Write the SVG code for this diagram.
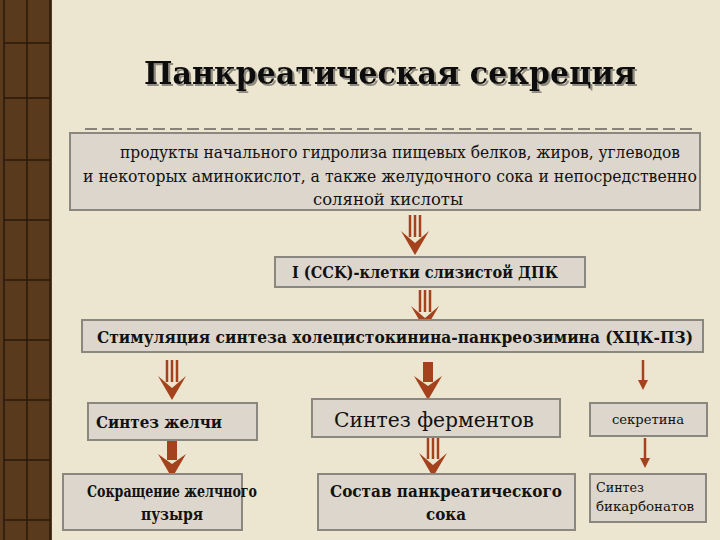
<svg xmlns="http://www.w3.org/2000/svg" width="720" height="540" viewBox="0 0 720 540">
<style>
.box{fill:#dcd6cc;stroke:#8a8780;stroke-width:2}
.t{font-family:'DejaVu Serif','Liberation Serif',serif;fill:#111}
.b{font-weight:bold}
.ar{fill:#a3421c;stroke:none}
.ln{stroke:#a3421c;stroke-width:2.5}
</style>
<defs>
<filter id="sh" x="-5%" y="-20%" width="110%" height="140%"><feDropShadow dx="2" dy="2" stdDeviation="0.5" flood-color="#8f8b80"/></filter>
<g id="tri"><line class="ln" x1="-5" y1="0" x2="-5" y2="22"/><line class="ln" x1="0" y1="0" x2="0" y2="22"/><line class="ln" x1="5" y1="0" x2="5" y2="22"/><path class="ar" d="M-14,16 L0,40 L14,16 L0,28 Z"/></g>
<g id="thick"><rect class="ar" x="-5" y="0" width="10" height="20"/><path class="ar" d="M-14,14 L0,38 L14,14 L0,24 Z"/></g>
<g id="thin"><line class="ln" x1="0" y1="0" x2="0" y2="22" stroke-width="2"/><path class="ar" d="M-5,20 L0,30 L5,20 Z"/></g>
</defs>
<rect width="720" height="540" fill="#ece5cf"/>
<rect x="0" y="0" width="52" height="540" fill="#5a3a1c"/>
<g stroke="#2a1a0a" stroke-width="1.5">
<line x1="27" y1="0" x2="27" y2="540"/><line x1="4" y1="0" x2="4" y2="540"/><line x1="50" y1="0" x2="50" y2="540"/>
<line x1="4" y1="43" x2="50" y2="43"/><line x1="4" y1="98" x2="50" y2="98"/><line x1="4" y1="160" x2="50" y2="160"/><line x1="4" y1="220" x2="50" y2="220"/><line x1="4" y1="280" x2="50" y2="280"/><line x1="4" y1="340" x2="50" y2="340"/><line x1="4" y1="400" x2="50" y2="400"/><line x1="4" y1="460" x2="50" y2="460"/><line x1="4" y1="520" x2="50" y2="520"/>
</g>
<g id="title">
<text class="t b" x="390" y="84" font-size="32" text-anchor="middle" textLength="492" lengthAdjust="spacingAndGlyphs" filter="url(#sh)">Панкреатическая секреция</text>
<line x1="85" y1="129" x2="692" y2="129" stroke="#222" stroke-width="1.2" stroke-dasharray="12,5"/>
</g>
<g id="connectors">
<use href="#tri" x="415" y="215"/>
<use href="#tri" x="425" y="290"/>
<use href="#tri" x="172" y="360"/>
<use href="#thick" x="428" y="362"/>
<use href="#thin" x="643" y="360"/>
<use href="#thick" x="172" y="440"/>
<use href="#tri" x="433" y="437"/>
<use href="#thin" x="645" y="438"/>
</g>
<g id="n1"><rect class="box" x="70" y="133" width="630" height="77"/>
<text class="t" font-size="16" text-anchor="middle" lengthAdjust="spacingAndGlyphs"><tspan x="400" y="158" textLength="560" lengthAdjust="spacingAndGlyphs">продукты начального гидролиза пищевых белков, жиров, углеводов</tspan><tspan x="390" y="182" textLength="614" lengthAdjust="spacingAndGlyphs">и некоторых аминокислот, а также желудочного сока и непосредственно</tspan><tspan x="388" y="205" textLength="150" lengthAdjust="spacingAndGlyphs">соляной кислоты</tspan></text></g>
<g id="n2"><rect class="box" x="275" y="257" width="310" height="30"/><text class="t b" x="425" y="278" font-size="16" text-anchor="middle" textLength="266" lengthAdjust="spacingAndGlyphs">I (CCK)-клетки слизистой ДПК</text></g>
<g id="n3"><rect class="box" x="82" y="320" width="621" height="32"/><text class="t b" x="395" y="343" font-size="16" text-anchor="middle" textLength="596" lengthAdjust="spacingAndGlyphs">Стимуляция синтеза холецистокинина-панкреозимина (ХЦК-ПЗ)</text></g>
<g id="n4"><rect class="box" x="88" y="403" width="169" height="37"/><text class="t b" x="96" y="428" font-size="16" textLength="126" lengthAdjust="spacingAndGlyphs">Синтез желчи</text></g>
<g id="n5"><rect class="box" x="312" y="399" width="248" height="38"/><text class="t" x="434" y="427" font-size="21" text-anchor="middle" textLength="200" lengthAdjust="spacingAndGlyphs">Синтез ферментов</text></g>
<g id="n6"><rect class="box" x="590" y="403" width="117" height="33"/><text class="t" x="648" y="424" font-size="12" text-anchor="middle" textLength="72" lengthAdjust="spacingAndGlyphs">секретина</text></g>
<g id="n7"><rect class="box" x="63" y="474" width="179" height="56"/><text class="t b" font-size="16" text-anchor="middle"><tspan x="172" y="497" textLength="170" lengthAdjust="spacingAndGlyphs">Сокращение желчного</tspan><tspan x="172" y="520" textLength="62" lengthAdjust="spacingAndGlyphs">пузыря</tspan></text></g>
<g id="n8"><rect class="box" x="318" y="474" width="257" height="56"/><text class="t b" font-size="16" text-anchor="middle"><tspan x="446" y="497" textLength="232" lengthAdjust="spacingAndGlyphs">Состав панкреатического</tspan><tspan x="446" y="520" textLength="40" lengthAdjust="spacingAndGlyphs">сока</tspan></text></g>
<g id="n9"><rect class="box" x="590" y="474" width="116" height="48"/><text class="t" font-size="12"><tspan x="596" y="492" textLength="48" lengthAdjust="spacingAndGlyphs">Синтез</tspan><tspan x="596" y="511" textLength="98" lengthAdjust="spacingAndGlyphs">бикарбонатов</tspan></text></g>
</svg>
